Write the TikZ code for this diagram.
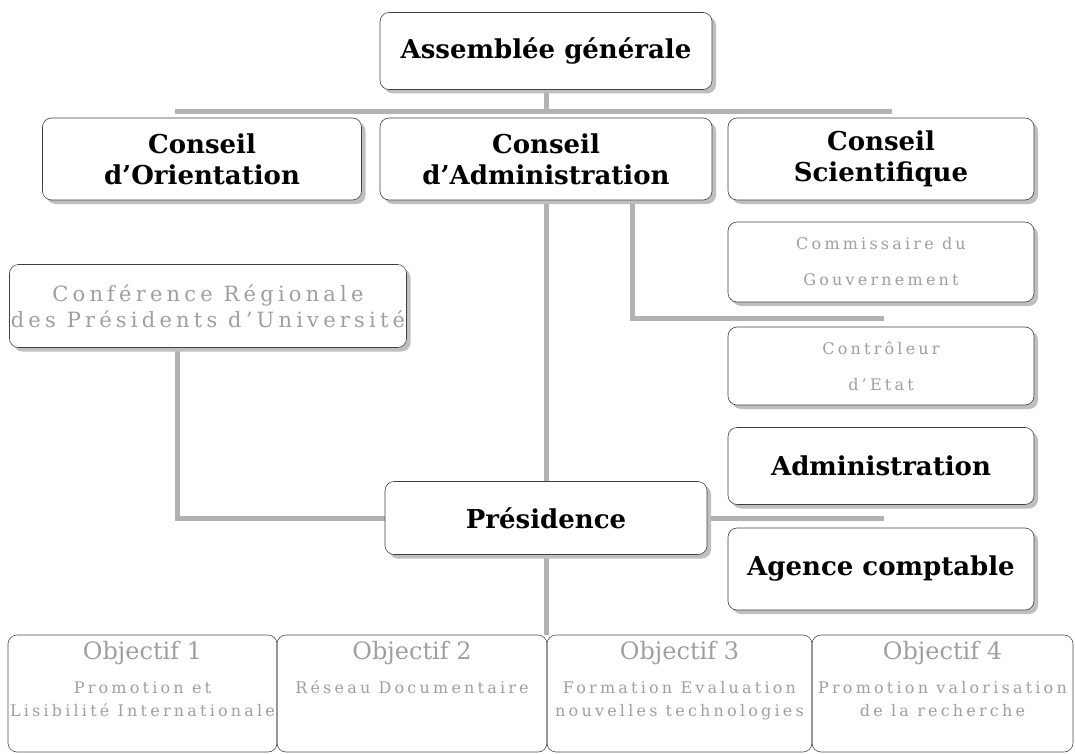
\documentclass[tikz,border=0pt]{standalone}
\usepackage{fontspec}
\setmainfont{DejaVu Serif}
\newfontfamily\greyfam[LetterSpace=20]{DejaVu Serif}
\usetikzlibrary{shadows}
\usetikzlibrary{backgrounds}
\newcommand\boldtext{\fontsize{26}{31}\selectfont\bfseries}
\newcommand\greytext{\greyfam\fontsize{16}{36}\selectfont}
\newcommand\conftext{\greyfam\fontsize{21}{26}\selectfont}
\newcommand\headtext{\rmfamily\fontsize{24}{28}\selectfont}
\newcommand\subtext{\greyfam\fontsize{16}{23}\selectfont}
\tikzset{
  box/.style={draw=black!75, line width=0.6pt, rounded corners=9pt, fill=white,
    drop shadow={shadow xshift=4pt, shadow yshift=-4pt, fill=gray!50, opacity=1},
    align=center, inner sep=1pt},
  boldbox/.style={box, font=\boldtext},
  greybox/.style={box, font=\greytext, text=gray!75},
  objbox/.style={draw=black!70, line width=0.6pt, rounded corners=9pt,
    minimum height=117pt, inner sep=0pt},
  objtext/.style={anchor=north, align=center, font=\subtext, text=gray!75},
  link/.style={draw=gray!60, line width=5pt},
}
\begin{document}
\begin{tikzpicture}[x=1pt,y=-1pt]
    \useasboundingbox (0,0) rectangle (1075,754);
    % councils
    \node[boldbox, minimum width=332pt, minimum height=77pt] (assemblee) at (546, 51) {Assemblée générale};
    \node[boldbox, minimum width=319pt, minimum height=82pt] (orient)    at (202,159) {Conseil\\d’Orientation};
    \node[boldbox, minimum width=332pt, minimum height=82pt] (cadmin)    at (546,159) {Conseil\\d’Administration};
    \node[boldbox, minimum width=306pt, minimum height=82pt] (cscient)   at (881,159) {Conseil\\Scientifique};
    % right column
    \node[greybox, minimum width=306pt, minimum height=80pt] (commiss)  at (881,262) {Commissaire du\\Gouvernement};
    \node[greybox, minimum width=306pt, minimum height=78pt] (controle) at (881,366) {Contrôleur\\d’Etat};
    \node[boldbox, minimum width=306pt, minimum height=77pt] (admin)    at (881,466) {Administration};
    \node[boldbox, minimum width=306pt, minimum height=82pt] (agence)   at (881,569) {Agence comptable};
    % left and centre
    \node[greybox, font=\conftext, minimum width=397pt, minimum height=83pt] (confreg) at (208,306) {Conférence Régionale\\des Présidents d’Université};
    \node[boldbox, minimum width=322pt, minimum height=73pt] (pres)    at (546,518) {Présidence};
    % objectives
    \node[objbox, minimum width=269pt, label={[objtext, yshift=-3pt]north:{{\headtext Objectif 1}\\[11pt]Promotion et\\Lisibilité Internationale}}] (obj1) at (142.5,693.5) {};
    \node[objbox, minimum width=270pt, label={[objtext, yshift=-3pt]north:{{\headtext Objectif 2}\\[11pt]Réseau Documentaire}}] (obj2) at (412,693.5) {};
    \node[objbox, minimum width=265pt, label={[objtext, yshift=-3pt]north:{{\headtext Objectif 3}\\[11pt]Formation Evaluation\\nouvelles technologies}}] (obj3) at (679.5,693.5) {};
    \node[objbox, minimum width=261pt, label={[objtext, yshift=-3pt]north:{{\headtext Objectif 4}\\[11pt]Promotion valorisation\\de la recherche}}] (obj4) at (942.5,693.5) {};
    % connectors
    \coordinate (barL) at (175,112);
    \coordinate (barR) at (892,112);
    \coordinate (etat) at (884,318);
    \begin{scope}[on background layer]
      \draw[link] (barL) -- (barR);
      \draw[link] (assemblee.south) -- (assemblee.south |- barL);
      \draw[link] (cadmin.south) -- (pres.north);
      \draw[link] ([xshift=86pt]cadmin.south) |- (etat);
      \draw[link] ([xshift=-31pt]confreg.south) |- (pres.west);
      \draw[link] (pres.east) -- (pres.east -| etat);
      \draw[link] (pres.south) -- (pres.south |- obj3.north west);
    \end{scope}
  \end{tikzpicture}
\end{document}
